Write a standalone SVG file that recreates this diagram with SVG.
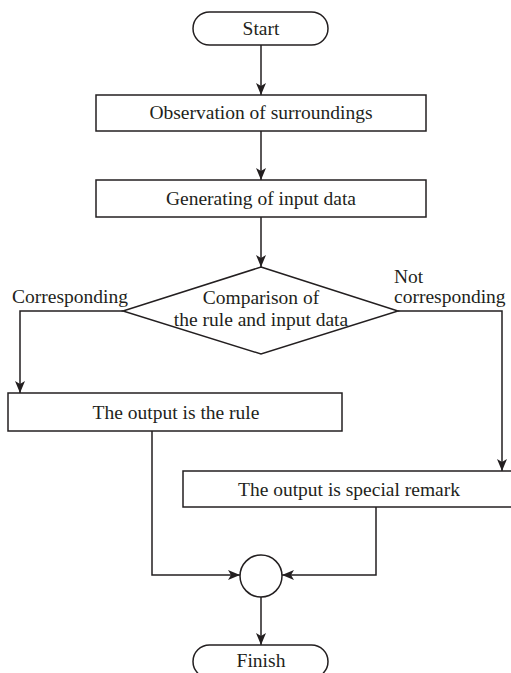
<svg xmlns="http://www.w3.org/2000/svg" width="511" height="673" viewBox="0 0 511 673">
<style>
.s{fill:#fff;stroke:#231f20;stroke-width:1.5}
.c{fill:none;stroke:#231f20;stroke-width:1.5}
text{font-family:"Liberation Serif","Times New Roman",serif;font-size:19.5px;fill:#231f20}
.m{text-anchor:middle}
</style>
<defs>
<marker id="a" viewBox="0 0 12 10" refX="12" refY="5" markerWidth="12" markerHeight="10" markerUnits="userSpaceOnUse" orient="auto">
<path d="M0,0 L12,5 L0,10 L3,5 Z" fill="#231f20"/>
</marker>
</defs>
<rect width="511" height="673" fill="#fff"/>
<g id="connectors">
<path class="c" d="M261,45 V95" marker-end="url(#a)"/>
<path class="c" d="M261,131 V180" marker-end="url(#a)"/>
<path class="c" d="M261,217 V267" marker-end="url(#a)"/>
<path class="c" d="M123,311 H20 V393" marker-end="url(#a)"/>
<path class="c" d="M398,311 H502 V471" marker-end="url(#a)"/>
<path class="c" d="M152,431 V575 H240" marker-end="url(#a)"/>
<path class="c" d="M376,507 V575 H282" marker-end="url(#a)"/>
<path class="c" d="M261,597 V645" marker-end="url(#a)"/>
</g>
<g id="start">
<rect class="s" x="193" y="12" width="135" height="33" rx="16.5"/>
<text class="m" x="261" y="35">Start</text>
</g>
<g id="observation">
<rect class="s" x="96" y="95" width="330" height="36"/>
<text class="m" x="261" y="119">Observation of surroundings</text>
</g>
<g id="generating">
<rect class="s" x="96" y="180" width="330" height="37"/>
<text class="m" x="261" y="205">Generating of input data</text>
</g>
<g id="comparison">
<polygon class="s" points="261,267 398,311 261,354 123,311"/>
<text class="m" x="261" y="304">Comparison of</text>
<text class="m" x="261" y="326">the rule and input data</text>
</g>
<g id="labels">
<text x="12" y="303">Corresponding</text>
<text x="394" y="283">Not</text>
<text x="394" y="303">corresponding</text>
</g>
<g id="rule">
<rect class="s" x="8" y="393" width="334" height="38"/>
<text class="m" x="176" y="419">The output is the rule</text>
</g>
<g id="remark">
<rect class="s" x="183" y="471" width="330" height="36"/>
<text class="m" x="349" y="496">The output is special remark</text>
</g>
<g id="join">
<circle class="s" cx="261" cy="576" r="21"/>
</g>
<g id="finish">
<rect class="s" x="193" y="645" width="135" height="33" rx="16.5"/>
<text class="m" x="261" y="667">Finish</text>
</g>
</svg>
